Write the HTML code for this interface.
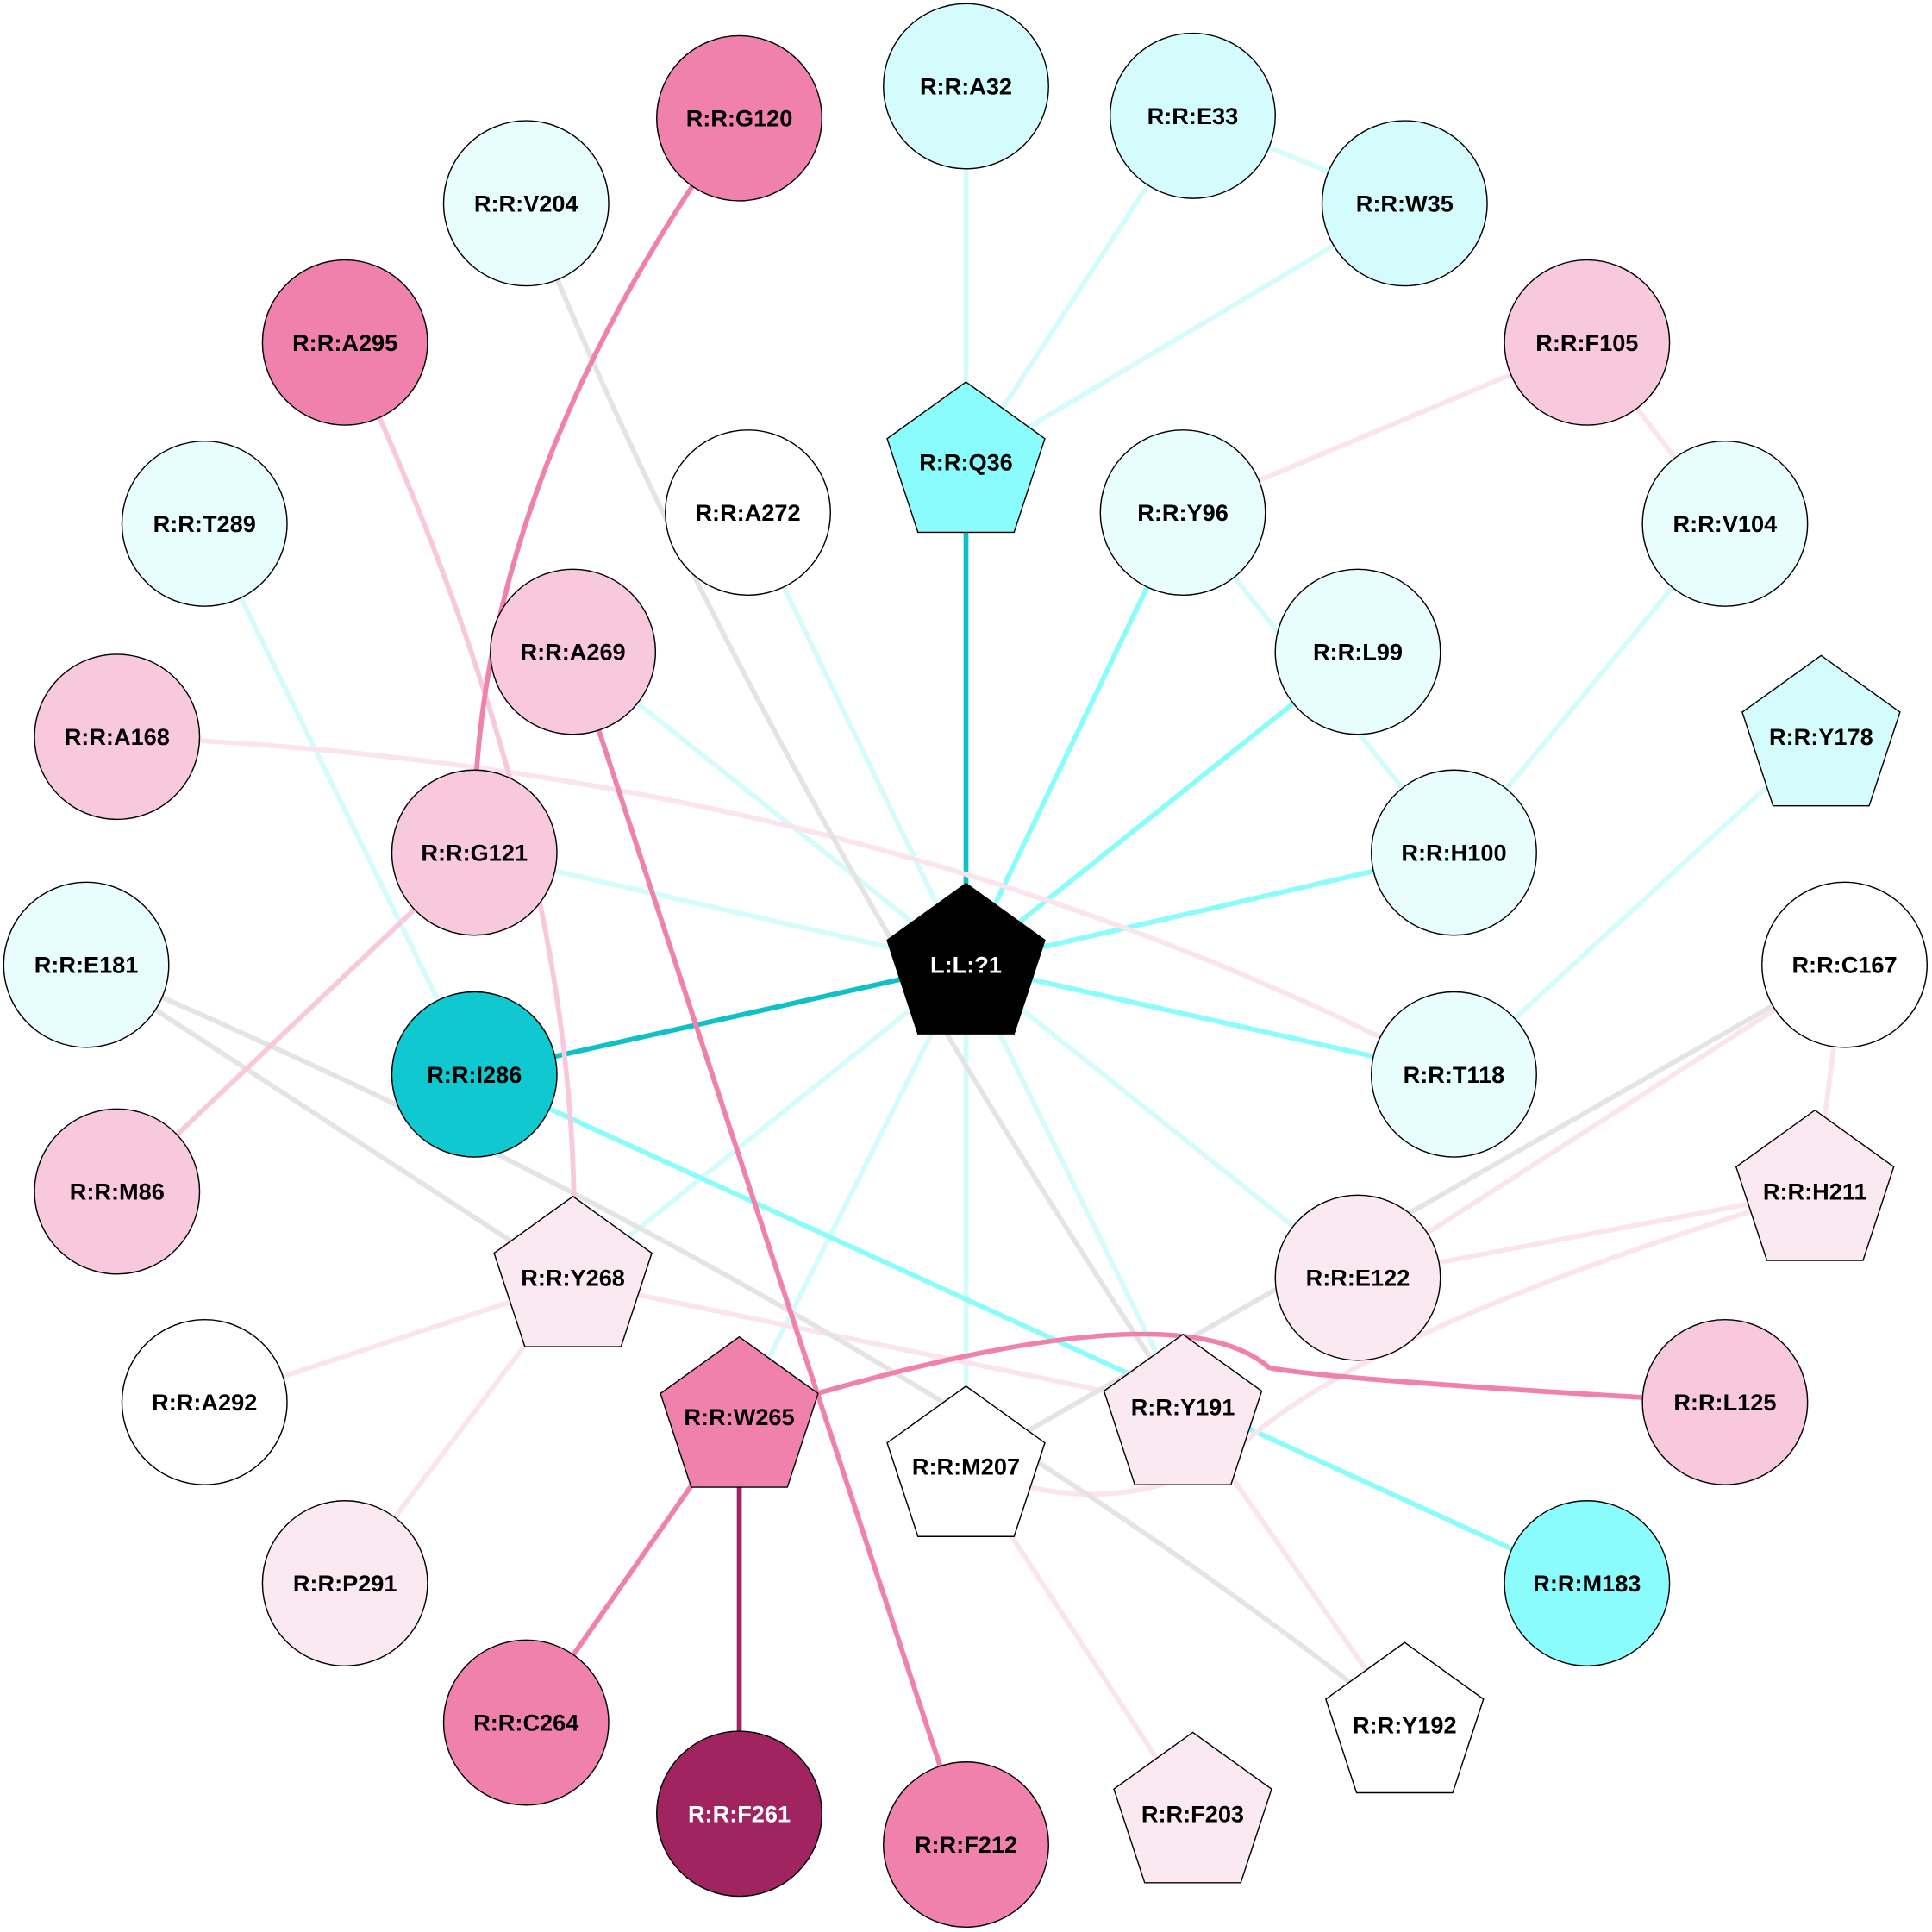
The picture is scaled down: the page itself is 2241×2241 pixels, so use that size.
<!DOCTYPE html>
<html><head><meta charset="utf-8"><style>html,body{margin:0;padding:0;background:#fff}svg{display:block}text{font-family:"Liberation Sans",Arial,sans-serif;font-weight:bold;font-size:19px;text-anchor:middle;dominant-baseline:central}</style></head><body>
<svg width="2241" height="2241" viewBox="0 0 1568 1568" xmlns="http://www.w3.org/2000/svg">
<g fill="none" stroke-width="4">
<g stroke="#d4fcfc">
<line x1="784" y1="70" x2="784" y2="377"/>
<line x1="968" y1="94" x2="784" y2="377"/>
<line x1="1140" y1="165" x2="784" y2="377"/>
<line x1="968" y1="94" x2="1140" y2="165"/>
<line x1="607" y1="416" x2="784" y2="783"/>
<line x1="465" y1="529" x2="784" y2="783"/>
<line x1="385" y1="692" x2="784" y2="783"/>
<line x1="465" y1="1040" x2="784" y2="783"/>
<line x1="600" y1="1150" x2="784" y2="783"/>
<line x1="784" y1="1190" x2="784" y2="783"/>
<line x1="960" y1="1142" x2="784" y2="783"/>
<line x1="1102" y1="1037" x2="784" y2="783"/>
<line x1="166" y1="425" x2="385" y2="872"/>
<line x1="960" y1="416" x2="1180" y2="692"/>
<line x1="1400" y1="425" x2="1180" y2="692"/>
<line x1="1478" y1="598" x2="1180" y2="872"/>
</g>
<g stroke="#8afcfc">
<line x1="960" y1="416" x2="784" y2="783"/>
<line x1="1102" y1="529" x2="784" y2="783"/>
<line x1="1180" y1="692" x2="784" y2="783"/>
<line x1="1180" y1="872" x2="784" y2="783"/>
<line x1="385" y1="872" x2="1288" y2="1285"/>
</g>
<line x1="784" y1="377" x2="784" y2="783" stroke="#10c0c8"/>
<line x1="385" y1="872" x2="784" y2="783" stroke="#10c0c8"/>
<g stroke="#fbe4ec">
<line x1="1288" y1="278" x2="960" y2="416"/>
<line x1="1288" y1="278" x2="1400" y2="425"/>
<path d="M95 598 Q700 620 1180 872"/>
<line x1="1497" y1="783" x2="1102" y2="1037"/>
<line x1="1497" y1="783" x2="1473" y2="967"/>
<line x1="1473" y1="967" x2="1102" y2="1037"/>
<path d="M1473 967 Q1100 1080 1000 1180 Q900 1240 784 1190"/>
<line x1="465" y1="1040" x2="166" y2="1138"/>
<line x1="465" y1="1040" x2="280" y2="1285"/>
<line x1="465" y1="1040" x2="960" y2="1142"/>
<line x1="960" y1="1142" x2="1140" y2="1400"/>
<line x1="784" y1="1190" x2="968" y2="1472"/>
</g>
<g stroke="#e4e4e4">
<path d="M427 165 Q600 600 960 1142"/>
<line x1="70" y1="783" x2="465" y2="1040"/>
<path d="M70 783 Q700 1050 1140 1400"/>
<line x1="1497" y1="783" x2="784" y2="1190"/>
</g>
<g stroke="#f8c8dc">
<path d="M280 278 Q480 700 465 1040"/>
<line x1="385" y1="692" x2="95" y2="967"/>
</g>
<g stroke="#f080ac">
<path d="M600 96 Q380 400 385 692"/>
<line x1="465" y1="529" x2="784" y2="1497"/>
<path d="M600 1150 Q950 1040 1030 1110 Q1080 1120 1400 1138"/>
<line x1="600" y1="1150" x2="427" y2="1398"/>
</g>
<line x1="600" y1="1150" x2="600" y2="1472" stroke="#a02460"/>
</g>
<g stroke="#000" stroke-width="1">
<circle cx="784" cy="70" r="67" fill="#d4fcfc"/>
<circle cx="968" cy="94" r="67" fill="#d4fcfc"/>
<circle cx="1140" cy="165" r="67" fill="#d4fcfc"/>
<circle cx="600" cy="96" r="67" fill="#f080ac"/>
<circle cx="427" cy="165" r="67" fill="#e8fdfd"/>
<circle cx="280" cy="278" r="67" fill="#f080ac"/>
<circle cx="1288" cy="278" r="67" fill="#f8c8dc"/>
<circle cx="166" cy="425" r="67" fill="#e8fdfd"/>
<circle cx="607" cy="416" r="67" fill="#fff"/>
<circle cx="960" cy="416" r="67" fill="#e8fdfd"/>
<circle cx="1400" cy="425" r="67" fill="#e8fdfd"/>
<circle cx="465" cy="529" r="67" fill="#f8c8dc"/>
<circle cx="1102" cy="529" r="67" fill="#e8fdfd"/>
<circle cx="95" cy="598" r="67" fill="#f8c8dc"/>
<circle cx="385" cy="692" r="67" fill="#f8c8dc"/>
<circle cx="1180" cy="692" r="67" fill="#e8fdfd"/>
<circle cx="70" cy="783" r="67" fill="#e8fdfd"/>
<circle cx="1497" cy="783" r="67" fill="#fff"/>
<circle cx="385" cy="872" r="67" fill="#10c8d0"/>
<circle cx="1180" cy="872" r="67" fill="#e8fdfd"/>
<circle cx="95" cy="967" r="67" fill="#f8c8dc"/>
<circle cx="1102" cy="1037" r="67" fill="#fbe9f1"/>
<circle cx="166" cy="1138" r="67" fill="#fff"/>
<circle cx="1400" cy="1138" r="67" fill="#f8c8dc"/>
<circle cx="280" cy="1285" r="67" fill="#fbe9f1"/>
<circle cx="1288" cy="1285" r="67" fill="#8afcfc"/>
<circle cx="427" cy="1398" r="67" fill="#f080ac"/>
<circle cx="600" cy="1472" r="67" fill="#a02460"/>
<circle cx="784" cy="1497" r="67" fill="#f080ac"/>
<polygon points="784,310 848,356 823,432 745,432 720,356" fill="#8afcfc"/>
<polygon points="784,717 848,763 823,839 745,839 720,763" fill="#000"/>
<polygon points="1478,532 1542,578 1517,654 1439,654 1414,578" fill="#d4fcfc"/>
<polygon points="1473,901 1537,947 1512,1023 1434,1023 1409,947" fill="#fbe9f1"/>
<polygon points="465,971 529,1017 504,1093 426,1093 401,1017" fill="#fbe9f1"/>
<polygon points="600,1085 664,1131 639,1207 561,1207 536,1131" fill="#f080ac"/>
<polygon points="960,1083 1024,1129 999,1205 921,1205 896,1129" fill="#fbe9f1"/>
<polygon points="784,1125 848,1171 823,1247 745,1247 720,1171" fill="#fff"/>
<polygon points="1140,1333 1204,1379 1179,1455 1101,1455 1076,1379" fill="#fff"/>
<polygon points="968,1406 1032,1452 1007,1528 929,1528 904,1452" fill="#fbe9f1"/>
</g>
<g fill="#000">
<text x="784" y="70">R:R:A32</text>
<text x="968" y="94">R:R:E33</text>
<text x="1140" y="165">R:R:W35</text>
<text x="600" y="96">R:R:G120</text>
<text x="427" y="165">R:R:V204</text>
<text x="280" y="278">R:R:A295</text>
<text x="1288" y="278">R:R:F105</text>
<text x="166" y="425">R:R:T289</text>
<text x="607" y="416">R:R:A272</text>
<text x="960" y="416">R:R:Y96</text>
<text x="1400" y="425">R:R:V104</text>
<text x="465" y="529">R:R:A269</text>
<text x="1102" y="529">R:R:L99</text>
<text x="95" y="598">R:R:A168</text>
<text x="385" y="692">R:R:G121</text>
<text x="1180" y="692">R:R:H100</text>
<text x="70" y="783">R:R:E181</text>
<text x="1497" y="783">R:R:C167</text>
<text x="385" y="872">R:R:I286</text>
<text x="1180" y="872">R:R:T118</text>
<text x="95" y="967">R:R:M86</text>
<text x="1102" y="1037">R:R:E122</text>
<text x="166" y="1138">R:R:A292</text>
<text x="1400" y="1138">R:R:L125</text>
<text x="280" y="1285">R:R:P291</text>
<text x="1288" y="1285">R:R:M183</text>
<text x="427" y="1398">R:R:C264</text>
<text x="784" y="1497">R:R:F212</text>
<text x="784" y="375">R:R:Q36</text>
<text x="1478" y="598">R:R:Y178</text>
<text x="1473" y="967">R:R:H211</text>
<text x="465" y="1037">R:R:Y268</text>
<text x="600" y="1150">R:R:W265</text>
<text x="960" y="1142">R:R:Y191</text>
<text x="784" y="1190">R:R:M207</text>
<text x="1140" y="1400">R:R:Y192</text>
<text x="968" y="1472">R:R:F203</text>
</g>
<g fill="#fff">
<text x="784" y="783">L:L:?1</text>
<text x="600" y="1472">R:R:F261</text>
</g>
</svg>
</body></html>
